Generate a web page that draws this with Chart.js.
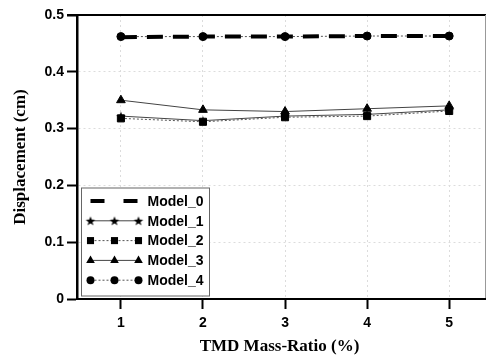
<!DOCTYPE html>
<html>
<head>
<meta charset="utf-8">
<script src="https://cdn.jsdelivr.net/npm/chart.js@4/dist/chart.umd.min.js"></script>
<style>
  html, body { margin: 0; padding: 0; background: #fff; }
  canvas { display: block; }
</style>
</head>
<body>
<canvas id="chart" width="488" height="359"></canvas>
<script>
// TMD mass-ratio vs. displacement, five models
const massRatio = [1, 2, 3, 4, 5];
const model0 = [0.461, 0.462, 0.462, 0.463, 0.463];
const model1 = [0.322, 0.314, 0.322, 0.325, 0.333];
const model2 = [0.318, 0.312, 0.320, 0.322, 0.331];
const model3 = [0.350, 0.333, 0.330, 0.335, 0.340];
const model4 = [0.462, 0.462, 0.462, 0.463, 0.463];
const seriesNames = ["Model_0", "Model_1", "Model_2", "Model_3", "Model_4"];
const xTicks = [1, 2, 3, 4, 5];
const yTicks = [0, 0.1, 0.2, 0.3, 0.4, 0.5];

const TICK_FONT = { family: "'Liberation Sans', Arial, sans-serif", size: 14, weight: "bold" };
const TITLE_FONT = { family: "'Liberation Serif', 'Times New Roman', serif", size: 17, weight: "bold" };

function starImage(r) {
  const c = document.createElement("canvas");
  const s = Math.ceil(r * 2) + 2;
  c.width = c.height = s;
  const g = c.getContext("2d");
  g.translate(s / 2, s / 2 + 0.5);
  g.beginPath();
  for (let i = 0; i < 10; i++) {
    const rad = i % 2 ? r * 0.42 : r;
    const a = -Math.PI / 2 + i * Math.PI / 5;
    g.lineTo(rad * Math.cos(a), rad * Math.sin(a));
  }
  g.closePath();
  g.fillStyle = "#000";
  g.fill();
  return c;
}
const star = starImage(5);

const pts = vals => vals.map((v, i) => ({ x: massRatio[i], y: v }));

const datasets = [
  { label: seriesNames[0], data: pts(model0), borderColor: "#000", borderWidth: 4,
    borderDash: [16, 10], pointRadius: 0, order: 0 },
  { label: seriesNames[1], data: pts(model1), borderColor: "#444", borderWidth: 1,
    pointStyle: star, pointRadius: 5, order: 4 },
  { label: seriesNames[2], data: pts(model2), borderColor: "#555", borderWidth: 1,
    borderDash: [2, 2], pointStyle: "rect", pointRadius: 5, order: 3 },
  { label: seriesNames[3], data: pts(model3), borderColor: "#444", borderWidth: 1,
    pointStyle: "triangle", pointRadius: 5, order: 2 },
  { label: seriesNames[4], data: pts(model4), borderColor: "#555", borderWidth: 1,
    borderDash: [2, 2], pointStyle: "circle", pointRadius: 4, order: 1 },
];
datasets.forEach(d => {
  d.backgroundColor = "#000";
  d.pointBackgroundColor = "#000";
  d.pointBorderColor = "#000";
  d.pointBorderWidth = 1;
  d.tension = 0;
  d.fill = false;
});

function drawMarker(ctx, style, r, x, y) {
  if (!style || !r) return;
  if (style instanceof HTMLCanvasElement) {
    ctx.drawImage(style, x - style.width / 2, y - style.height / 2);
    return;
  }
  ctx.beginPath();
  if (style === "circle") {
    ctx.arc(x, y, r, 0, Math.PI * 2);
  } else if (style === "rect") {
    const s = r * Math.SQRT1_2;
    ctx.rect(x - s, y - s, 2 * s, 2 * s);
  } else if (style === "triangle") {
    for (let i = 0; i < 3; i++) {
      const a = i * 2 * Math.PI / 3;
      ctx.lineTo(x + Math.sin(a) * r, y - Math.cos(a) * r);
    }
    ctx.closePath();
  }
  ctx.fillStyle = "#000";
  ctx.fill();
}

// boxed legend in the lower-left corner of the plot, plus the frame
const framePlugin = {
  id: "frame",
  afterDatasetsDraw(chart) {
    const { ctx, chartArea: a } = chart;
    const right = Math.min(chart.width - 1, a.right + 4);
    ctx.save();
    ctx.strokeStyle = "#000";
    ctx.lineWidth = 2;
    ctx.beginPath();
    ctx.moveTo(a.left - 10, a.top);
    ctx.lineTo(right, a.top);
    ctx.stroke();
    ctx.strokeStyle = "#999";
    ctx.lineWidth = 1;
    ctx.beginPath();
    ctx.moveTo(right - 0.5, a.top);
    ctx.lineTo(right - 0.5, a.bottom);
    ctx.stroke();
    ctx.strokeStyle = "#000";
    ctx.lineWidth = 2;
    ctx.beginPath();
    ctx.moveTo(a.right, a.bottom);
    ctx.lineTo(right, a.bottom);
    ctx.stroke();

    const bx = a.left + 4.5, bw = 128, bh = 108;
    const by = a.bottom - 3 - bh;
    ctx.fillStyle = "#fff";
    ctx.fillRect(bx, by, bw, bh);
    ctx.strokeStyle = "#666";
    ctx.lineWidth = 1;
    ctx.strokeRect(bx, by, bw, bh);

    const rowH = 19.8, x0 = bx + 9, x1 = bx + 57;
    chart.data.datasets.forEach((d, i) => {
      const y = by + 13 + i * rowH;
      ctx.save();
      ctx.strokeStyle = d.borderColor;
      ctx.lineWidth = d.borderWidth;
      if (i === 0) ctx.setLineDash([14, 19]);
      else ctx.setLineDash(d.borderDash || []);
      ctx.beginPath();
      ctx.moveTo(x0, y);
      ctx.lineTo(x1, y);
      ctx.stroke();
      ctx.restore();
      [x0, (x0 + x1) / 2, x1].forEach(px => drawMarker(ctx, d.pointStyle, d.pointRadius, px, y));
      ctx.fillStyle = "#000";
      ctx.font = `bold ${TICK_FONT.size}px ${TICK_FONT.family}`;
      ctx.textBaseline = "middle";
      ctx.textAlign = "left";
      ctx.fillText(d.label, x1 + 9, y + 1);
    });
    ctx.restore();
  }
};

new Chart(document.getElementById("chart"), {
  type: "line",
  data: { datasets },
  plugins: [framePlugin],
  options: {
    responsive: false,
    animation: false,
    layout: { padding: { top: 15, right: 1, left: 0, bottom: 0 } },
    plugins: { legend: { display: false }, tooltip: { enabled: false } },
    scales: {
      x: {
        type: "linear",
        min: 0.465,
        max: 5.40,
        afterBuildTicks: s => { s.ticks = xTicks.map(v => ({ value: v })); },
        afterFit: s => { s.height = 60; },
        ticks: { color: "#000", font: TICK_FONT, padding: 6, callback: v => String(v) },
        grid: { color: "#dcdcdc", tickColor: "#000", tickLength: 10, tickWidth: 2 },
        border: { color: "#000", width: 2, dash: [2, 3] },
        title: { display: true, text: "TMD Mass-Ratio (%)", color: "#000", font: TITLE_FONT,
                 padding: { top: 0, bottom: 2 } },
      },
      y: {
        min: 0,
        max: 0.5,
        afterBuildTicks: s => { s.ticks = yTicks.map(v => ({ value: v })); },
        afterFit: s => { s.width = 77; },
        ticks: { color: "#000", font: TICK_FONT, padding: 3,
                 callback: v => (v === 0 ? "0" : v.toFixed(1)) },
        grid: { color: "#dcdcdc", tickColor: "#000", tickLength: 10, tickWidth: 2 },
        border: { color: "#000", width: 2.5, dash: [2, 3] },
        title: { display: true, text: "Displacement (cm)", color: "#000", font: TITLE_FONT,
                 padding: { top: 10, bottom: 0 } },
      },
    },
  },
});
</script>
</body>
</html>
